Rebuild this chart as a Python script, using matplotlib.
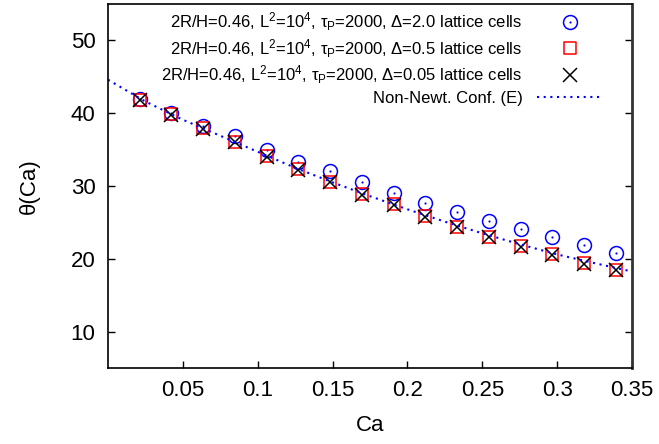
import numpy as np
import matplotlib
matplotlib.use('Agg')
import matplotlib.pyplot as plt
from matplotlib.path import Path

plt.rcParams['font.family'] = ['Liberation Sans', 'DejaVu Sans']
plt.rcParams['mathtext.fontset'] = 'custom'
plt.rcParams['mathtext.rm'] = 'Liberation Sans'
plt.rcParams['mathtext.it'] = 'Liberation Sans:italic'

# data
ca = [0.0212, 0.0424, 0.0636, 0.0848, 0.106, 0.1272, 0.1484, 0.1696,
      0.1908, 0.212, 0.2332, 0.2544, 0.2756, 0.2968, 0.318, 0.3392]
theta_d20 = [41.9, 40.06, 38.3, 36.8, 34.97, 33.27, 32.04, 30.52,
             29.1, 27.67, 26.4, 25.17, 24.07, 22.96, 21.9, 20.86]
theta_d05 = [41.8, 39.85, 37.95, 36.05, 34.1, 32.3, 30.6, 28.9,
             27.5, 25.9, 24.4, 23.05, 21.75, 20.6, 19.4, 18.45]
theta_d005 = [41.75, 39.8, 37.86, 36.0, 34.05, 32.2, 30.5, 28.83,
              27.41, 25.8, 24.34, 22.96, 21.68, 20.54, 19.3, 18.4]

ca_line = [0.0, 0.025, 0.05, 0.075, 0.1, 0.125, 0.15, 0.175,
           0.2, 0.225, 0.25, 0.275, 0.3, 0.325, 0.35]
theta_line = [44.6, 41.6, 39.1, 36.9, 34.7, 32.5, 30.5, 28.6,
              26.8, 25.1, 23.5, 22.0, 20.6, 19.4, 18.25]

labels = [
    r'2R/H=0.46, L$^2$=10$^4$, τ$_\mathrm{P}$=2000, Δ=2.0 lattice cells',
    r'2R/H=0.46, L$^2$=10$^4$, τ$_\mathrm{P}$=2000, Δ=0.5 lattice cells',
    r'2R/H=0.46, L$^2$=10$^4$, τ$_\mathrm{P}$=2000, Δ=0.05 lattice cells',
    'Non-Newt. Conf. (E)',
]


def dotted_marker(base):
    # gnuplot style symbol: outline plus a tiny dot in the middle
    d = 0.04
    dot = Path([(-d, -d), (d, -d), (d, d), (-d, d), (-d, -d)],
               [Path.MOVETO, Path.LINETO, Path.LINETO, Path.LINETO, Path.CLOSEPOLY])
    return Path.make_compound_path(base, dot)


circ = dotted_marker(Path.unit_circle())
sq = dotted_marker(Path([(-1, -1), (1, -1), (1, 1), (-1, 1), (-1, -1)],
                        [Path.MOVETO, Path.LINETO, Path.LINETO, Path.LINETO, Path.CLOSEPOLY]))

fig = plt.figure(figsize=(6.59, 4.44), dpi=100)
ax = fig.add_axes([0.1639, 0.1712, 0.7951, 0.8198])

ax.plot(ca, theta_d20, linestyle='none', marker=circ, markersize=10,
        markerfacecolor='none', markeredgecolor='#0000ff', markeredgewidth=1.1,
        label=labels[0])
ax.plot(ca, theta_d05, linestyle='none', marker=sq, markersize=9,
        markerfacecolor='none', markeredgecolor='#ff0000', markeredgewidth=1.1,
        label=labels[1])
ax.plot(ca, theta_d005, linestyle='none', marker='x', markersize=9.5,
        color='black', markeredgewidth=1.1, label=labels[2])
ax.plot(ca_line, theta_line, color='#0000ff', linewidth=1.5,
        linestyle=(0, (1, 2.2)), label=labels[3])

ax.set_xlim(0, 0.35)
ax.set_ylim(5, 55)
ax.set_xticks([0.05, 0.1, 0.15, 0.2, 0.25, 0.3, 0.35])
ax.set_xticklabels(['0.05', '0.1', '0.15', '0.2', '0.25', '0.3', '0.35'])
ax.set_yticks([10, 20, 30, 40, 50])
ax.tick_params(direction='in', length=5, width=1, labelsize=16,
               right=True, top=False, pad=9)
for s in ax.spines.values():
    s.set_linewidth(1.2)
ax.spines['right'].set_linewidth(2)
ax.spines['right'].set_color('#333333')

ax.set_xlabel('Ca', fontsize=16, labelpad=10)
ax.set_ylabel('θ(Ca)', fontsize=16, labelpad=22)

leg = ax.legend(loc='upper right', fontsize=12, frameon=False,
                markerfirst=False, handlelength=3.9, labelspacing=0.25,
                borderaxespad=0.3, handletextpad=0.9,
                bbox_to_anchor=(0.966, 1.015))

fig.savefig('out.png', dpi=100)
